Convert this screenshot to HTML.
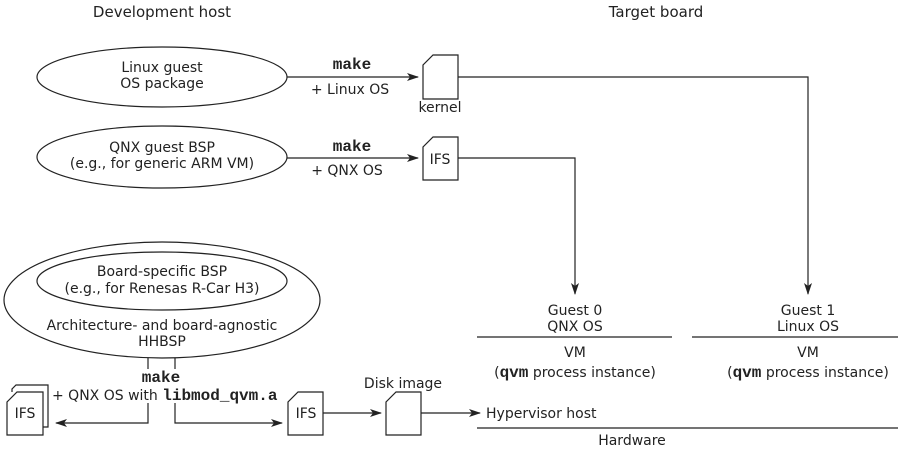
<!DOCTYPE html>
<html><head><meta charset="utf-8"><style>
html,body{margin:0;padding:0;background:#fff}
svg{display:block}
text{font-family:"DejaVu Sans","Liberation Sans",sans-serif;font-size:14px;fill:#222}
.h{font-size:15px}
.m{font-family:"Liberation Mono",monospace;font-weight:bold;font-size:16px}
</style></head><body>
<svg width="902" height="451" viewBox="0 0 902 451" xmlns="http://www.w3.org/2000/svg">
<defs><marker id="a" markerWidth="12" markerHeight="8" refX="11" refY="4" orient="auto" markerUnits="userSpaceOnUse"><path d="M0,0 L12,4 L0,8 L3,4 Z" fill="#222"/></marker></defs>
<g fill="none" stroke="#222" stroke-width="1.2">
<ellipse cx="162" cy="77" rx="125" ry="30"/>
<ellipse cx="162" cy="157" rx="125" ry="31"/>
<ellipse cx="162" cy="300" rx="158" ry="58"/>
<ellipse cx="162" cy="281" rx="125" ry="29"/>
<line x1="287" y1="77" x2="418" y2="77" marker-end="url(#a)"/>
<line x1="287" y1="158" x2="418" y2="158" marker-end="url(#a)"/>
<path d="M433,55 H458 V99 H423 V65 Z"/>
<path d="M433,137 H458 V180 H423 V147 Z"/>
<polyline points="458,77 808,77 808,294" marker-end="url(#a)"/>
<polyline points="458,158 575,158 575,294" marker-end="url(#a)"/>
<line x1="477" y1="337" x2="672" y2="337"/>
<line x1="692" y1="337" x2="898" y2="337"/>
<line x1="477" y1="428" x2="898" y2="428"/>
<line x1="148" y1="358" x2="148" y2="369"/>
<line x1="175" y1="358" x2="175" y2="369"/>
<polyline points="148,403 148,423 56,423" marker-end="url(#a)"/>
<polyline points="175,403 175,423 282,423" marker-end="url(#a)"/>
<path d="M12,392 V389 L16,385 H48 V427 H43"/>
<path d="M17,392 H43 V435 H7 V402 Z" fill="#fff"/>
<path d="M298,392 H323 V435 H288 V402 Z"/>
<line x1="323" y1="413" x2="381" y2="413" marker-end="url(#a)"/>
<path d="M396,392 H421 V435 H386 V402 Z"/>
<line x1="421" y1="413" x2="480" y2="413" marker-end="url(#a)"/>
</g>
<g text-anchor="middle">
<text class="h" x="162" y="17">Development host</text>
<text class="h" x="656" y="17">Target board</text>
<text x="162" y="72">Linux guest</text>
<text x="162" y="88">OS package</text>
<text x="162" y="152">QNX guest BSP</text>
<text x="162" y="168">(e.g., for generic ARM VM)</text>
<text x="162" y="276">Board-specific BSP</text>
<text x="162" y="293">(e.g., for Renesas R-Car H3)</text>
<text x="162" y="330">Architecture- and board-agnostic</text>
<text x="162" y="346">HHBSP</text>
<text class="m" x="352" y="69">make</text>
<text x="350" y="94">+ Linux OS</text>
<text class="m" x="352" y="151">make</text>
<text x="347" y="175">+ QNX OS</text>
<text x="440" y="112">kernel</text>
<text x="440" y="164">IFS</text>
<text x="575" y="315">Guest 0</text>
<text x="575" y="331">QNX OS</text>
<text x="808" y="315">Guest 1</text>
<text x="808" y="331">Linux OS</text>
<text x="575" y="357">VM</text>
<text x="575" y="377">(<tspan class="m">qvm</tspan> process instance)</text>
<text x="808" y="357">VM</text>
<text x="808" y="377">(<tspan class="m">qvm</tspan> process instance)</text>
<text class="m" x="161" y="382">make</text>
<text x="25" y="418">IFS</text>
<text x="306" y="418">IFS</text>
<text x="403" y="388">Disk image</text>
<text x="632" y="445">Hardware</text>
</g>
<text x="52" y="400">+ QNX OS with <tspan class="m">libmod_qvm.a</tspan></text>
<text x="486" y="418">Hypervisor host</text>
</svg>
</body></html>
